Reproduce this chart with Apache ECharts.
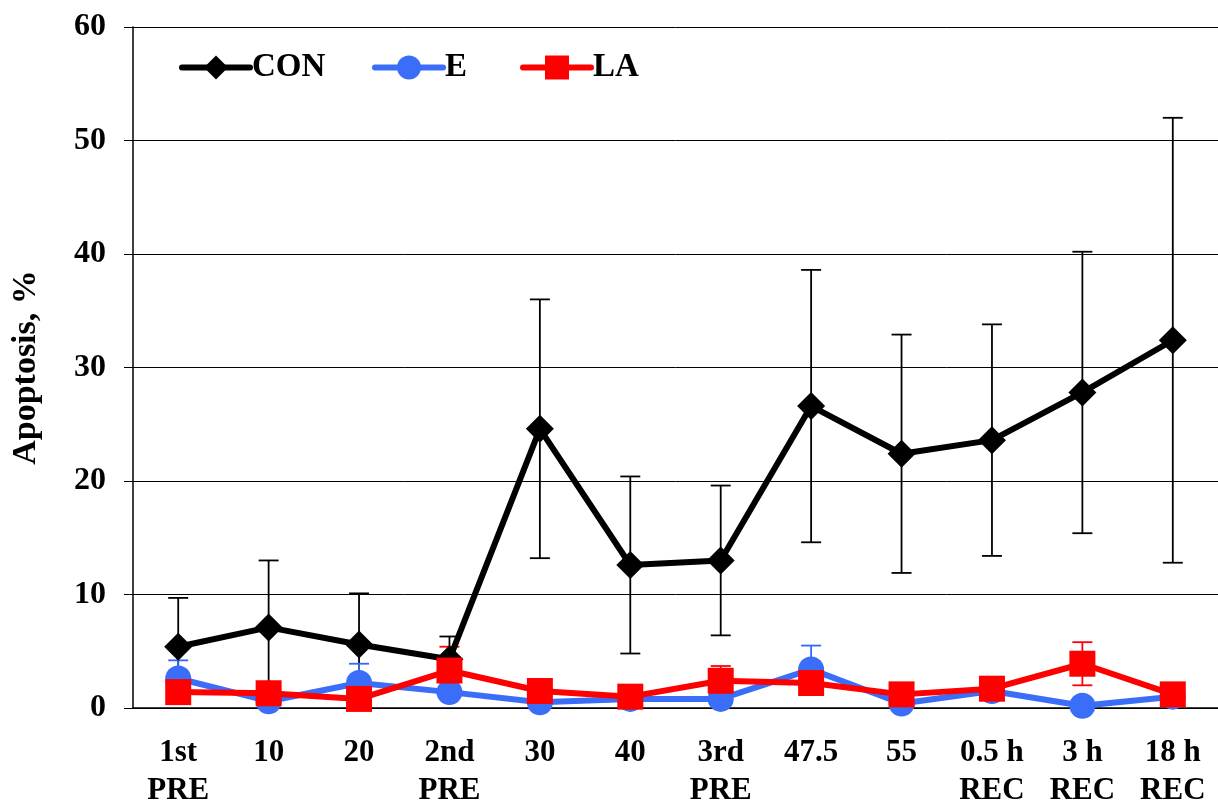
<!DOCTYPE html>
<html>
<head>
<meta charset="utf-8">
<script src="https://cdn.jsdelivr.net/npm/echarts@6/dist/echarts.min.js"></script>
<style>
html,body{margin:0;padding:0;background:#fff;}
#chart{width:1218px;height:805px;}
</style>
</head>
<body>
<div id="chart"></div>
<script>
// categories (time points)
var categories = ['1st\nPRE','10','20','2nd\nPRE','30','40','3rd\nPRE','47.5','55','0.5 h\nREC','3 h\nREC','18 h\nREC'];
// mean values
var conValues = [5.4, 7.1, 5.6, 4.3, 24.6, 12.6, 13.0, 26.6, 22.4, 23.6, 27.8, 32.4];
var eValues   = [2.6, 0.6, 2.2, 1.4, 0.5, 0.8, 0.8, 3.4, 0.4, 1.5, 0.2, 1.0];
var laValues  = [1.4, 1.3, 0.8, 3.3, 1.5, 1.0, 2.4, 2.2, 1.2, 1.7, 3.9, 1.2];
// error (SD)
var conErr = [4.3, 5.9, 4.5, 2.0, 11.4, 7.8, 6.6, 12.0, 10.5, 10.2, 12.4, 19.6];
var eErr   = [1.6, 0.3, 1.7, 0.3, 0.3, 0.3, 0.3, 2.1, 0.3, 0.3, 0.2, 0.3];
var laErr  = [0.3, 0.3, 0.3, 2.1, 0.3, 0.3, 1.3, 0.3, 0.3, 0.3, 1.9, 0.3];

var font = 'Liberation Serif';

//误差线数据
function errData(vals, errs){
    var arr = [];
    for(var i=0;i<vals.length;i++){
        arr.push([i, vals[i]-errs[i], vals[i]+errs[i]]);
    }
    return arr;
}
function errSeries(vals, errs, color){
    return {
        type:'custom',
        silent:true,
        z:1,
        data: errData(vals, errs),
        renderItem:function(params, api){
            var x = api.coord([api.value(0), 0])[0];
            var lo = api.coord([api.value(0), api.value(1)])[1];
            var hi = api.coord([api.value(0), api.value(2)])[1];
            var w = 10;
            var st = {stroke:color, lineWidth:1.8};
            return {type:'group', children:[
                {type:'line', shape:{x1:x,y1:hi,x2:x,y2:lo}, style:st},
                {type:'line', shape:{x1:x-w,y1:hi,x2:x+w,y2:hi}, style:st},
                {type:'line', shape:{x1:x-w,y1:lo,x2:x+w,y2:lo}, style:st}
            ]};
        }
    };
}
//图例
function legendItem(name, left){
    return {
        left:left, top:46,
        itemWidth:68, itemHeight:30,
        lineStyle:{width:6, cap:'round'},
        textStyle:{fontFamily:font, fontWeight:'bold', fontSize:33, color:'#000', padding:[0,0,0,-3]},
        data:[name]
    };
}

var chart = echarts.init(document.getElementById('chart'));
var option = {
    animation:false,
    backgroundColor:'#fff',
    grid:{left:133, right:0, top:27, bottom:97, outerBoundsMode:'none', containLabel:false},
    legend:[legendItem('CON',174), legendItem('E',367), legendItem('LA',515)],
    xAxis:{
        type:'category',
        data:categories,
        axisLine:{lineStyle:{color:'#000', width:1.5}},
        axisTick:{length:9, lineStyle:{color:'#000'}},
        axisLabel:{fontFamily:font, fontWeight:'bold', fontSize:31, color:'#000', lineHeight:38, margin:26, interval:0}
    },
    yAxis:{
        type:'value', min:0, max:60, interval:10,
        name:'Apoptosis, %',
        nameLocation:'middle', nameGap:90,
        nameTextStyle:{fontFamily:font, fontWeight:'bold', fontSize:34, color:'#000'},
        axisLine:{show:true, lineStyle:{color:'#000', width:1.5}},
        axisTick:{show:true, length:9, lineStyle:{color:'#000'}},
        axisLabel:{fontFamily:font, fontWeight:'bold', fontSize:32, color:'#000', margin:27},
        splitLine:{lineStyle:{color:'#000', width:1}}
    },
    series:[
        errSeries(conValues, conErr, '#000'),
        errSeries(eValues, eErr, '#3366ff'),
        errSeries(laValues, laErr, '#ff0000'),
        {name:'CON', type:'line', z:3, data:conValues, symbol:'diamond', symbolSize:28,
         lineStyle:{color:'#000', width:6}, itemStyle:{color:'#000'}},
        {name:'E', type:'line', z:4, data:eValues, symbol:'circle', symbolSize:26,
         lineStyle:{color:'#3a6df8', width:6}, itemStyle:{color:'#3a6df8'}},
        {name:'LA', type:'line', z:5, data:laValues, symbol:'rect', symbolSize:26,
         lineStyle:{color:'#ff0000', width:6}, itemStyle:{color:'#ff0000'}}
    ]
};
chart.setOption(option);
</script>
</body>
</html>
